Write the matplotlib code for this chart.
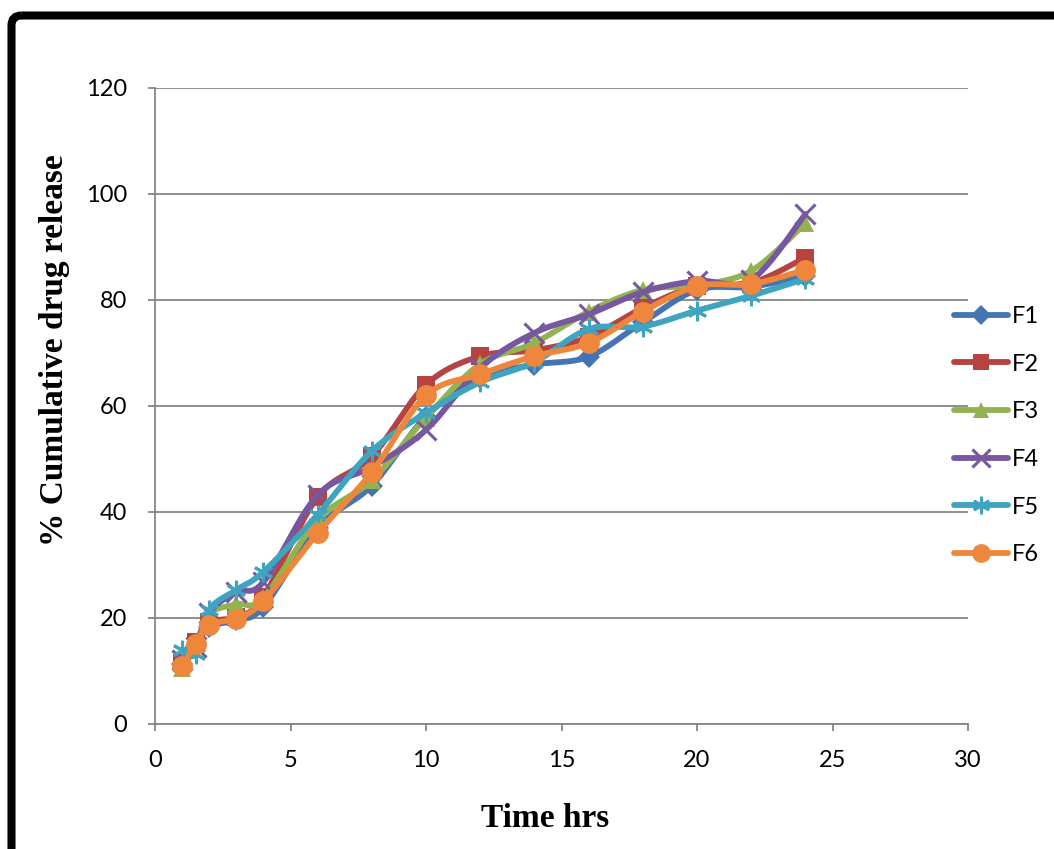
import numpy as np
import matplotlib
matplotlib.use("Agg")
import matplotlib.pyplot as plt
from matplotlib.patches import FancyBboxPatch
from matplotlib.lines import Line2D

time = [1, 1.5, 2, 3, 4, 6, 8, 10, 12, 14, 16, 18, 20, 22, 24]
F1 = [11.3, 14.7, 18.3, 19.6, 22.1, 37.0, 45.0, 58.0, 65.3, 67.8, 69.3, 75.8, 81.9, 82.5, 84.5]
F2 = [11.5, 15.5, 19.2, 20.2, 24.0, 42.8, 50.5, 64.0, 69.4, 70.5, 73.0, 78.5, 82.6, 83.2, 88.0]
F3 = [10.6, 15.0, 20.8, 22.6, 23.8, 38.5, 46.0, 57.8, 67.9, 71.9, 77.8, 81.9, 82.8, 85.5, 94.5]
F4 = [12.0, 14.5, 21.0, 25.0, 26.8, 43.2, 48.5, 55.5, 67.2, 73.8, 77.3, 81.5, 83.6, 83.8, 96.2]
F5 = [14.0, 13.2, 21.5, 25.3, 28.7, 39.5, 51.5, 58.7, 64.5, 68.3, 74.5, 75.0, 78.0, 80.8, 84.0]
F6 = [10.9, 15.1, 18.7, 19.9, 23.2, 36.0, 47.5, 62.0, 66.0, 69.4, 71.9, 77.8, 82.6, 83.0, 85.7]

labels = ["F1", "F2", "F3", "F4", "F5", "F6"]
series = [F1, F2, F3, F4, F5, F6]
colors = ["#4474B4", "#B6433F", "#92B350", "#7657A0", "#3FA4C0", "#EE873C"]
markers = ["D", "s", "^", "x", (6, 2, 0), "o"]
msizes = [11, 13, 13, 14, 14, 15]

xticks = [0, 5, 10, 15, 20, 25, 30]
yticks = [0, 20, 40, 60, 80, 100, 120]


def smooth(x, y, n=30):
    x = np.asarray(x, float)
    y = np.asarray(y, float)
    P = np.column_stack([x, y])
    out = []
    m = len(P)
    for i in range(m - 1):
        p0 = P[i - 1] if i > 0 else P[i]
        p1 = P[i]
        p2 = P[i + 1]
        p3 = P[i + 2] if i + 2 < m else P[i + 1]
        c1 = p1 + (p2 - p0) / 6.0
        c2 = p2 - (p3 - p1) / 6.0
        t = np.linspace(0, 1, n)[:, None]
        b = ((1 - t) ** 3) * p1 + 3 * ((1 - t) ** 2) * t * c1 + 3 * (1 - t) * t ** 2 * c2 + t ** 3 * p2
        if i > 0:
            b = b[1:]
        out.append(b)
    out = np.vstack(out)
    return out[:, 0], out[:, 1]


W, H = 1054, 849
fig = plt.figure(figsize=(W / 100, H / 100), dpi=100)
ax_l, ax_r, ax_t, ax_b = 155, 968, 88, 724
ax = fig.add_axes([ax_l / W, 1 - ax_b / H, (ax_r - ax_l) / W, (ax_b - ax_t) / H])
aw, ah = ax_r - ax_l, ax_b - ax_t

grid_c = "#868686"
LW = 4.2
for i, (lab, ys, c, mk, ms) in enumerate(zip(labels, series, colors, markers, msizes)):
    sx, sy = smooth(time, ys)
    ax.plot(sx, sy, color=c, lw=LW, solid_capstyle="round", zorder=3 + i)
    if mk == "x" or isinstance(mk, tuple):
        ax.plot(time, ys, linestyle="none", marker=mk, ms=ms, mew=2.2, color=c, zorder=3 + i)
    else:
        ax.plot(time, ys, linestyle="none", marker=mk, ms=ms, mew=0, color=c, zorder=3 + i)

ax.set_xlim(0, 30)
ax.set_ylim(0, 120)
ax.set_xticks(xticks)
ax.set_yticks(yticks)
ax.yaxis.grid(True, color=grid_c, lw=1.3)
ax.set_axisbelow(True)
for s in ["top", "right"]:
    ax.spines[s].set_visible(False)
for s in ["left", "bottom"]:
    ax.spines[s].set_color(grid_c)
    ax.spines[s].set_linewidth(1.3)
ax.tick_params(axis="both", colors=grid_c, labelcolor="black", length=5, width=1.3,
               labelsize=17)
for t in ax.get_xticklabels() + ax.get_yticklabels():
    t.set_fontfamily("Lato")
ax.tick_params(axis="y", pad=15)
ax.tick_params(axis="x", pad=14)

ax.set_xlabel("Time hrs", fontfamily="Liberation Serif", fontweight="bold", fontsize=24)
ax.set_ylabel("% Cumulative drug release", fontfamily="Liberation Serif", fontweight="bold",
              fontsize=24)
ax.xaxis.set_label_coords((545 - ax_l) / aw, (ax_b - 803) / ah)
ax.yaxis.set_label_coords((70 - ax_l) / aw, (ax_b - 350) / ah)

handles = []
for lab, c, mk, ms in zip(labels, colors, markers, msizes):
    mew = 2.2 if (mk == "x" or isinstance(mk, tuple)) else 0
    handles.append(Line2D([], [], color=c, lw=LW, marker=mk, ms=ms * 0.9, mew=mew,
                          solid_capstyle="round"))
leg = fig.legend(handles, labels, loc="upper left", bbox_to_anchor=(954 / W, 1 - 306 / H),
                 frameon=False, prop={"family": "Lato", "size": 17}, handlelength=2.3,
                 handletextpad=0.15, labelspacing=1.13, borderpad=0, borderaxespad=0)

# outer rounded frame (only left/top visible in the crop)
ov = fig.add_axes([0, 0, 1, 1], zorder=-1)
ov.set_xlim(0, W)
ov.set_ylim(H, 0)
ov.axis("off")
ov.add_patch(FancyBboxPatch((11.5, 15.5), 1200, 1000, boxstyle="round,pad=0,rounding_size=10",
                            fill=False, ec="black", lw=5.8))

fig.savefig("out.png", dpi=100)
